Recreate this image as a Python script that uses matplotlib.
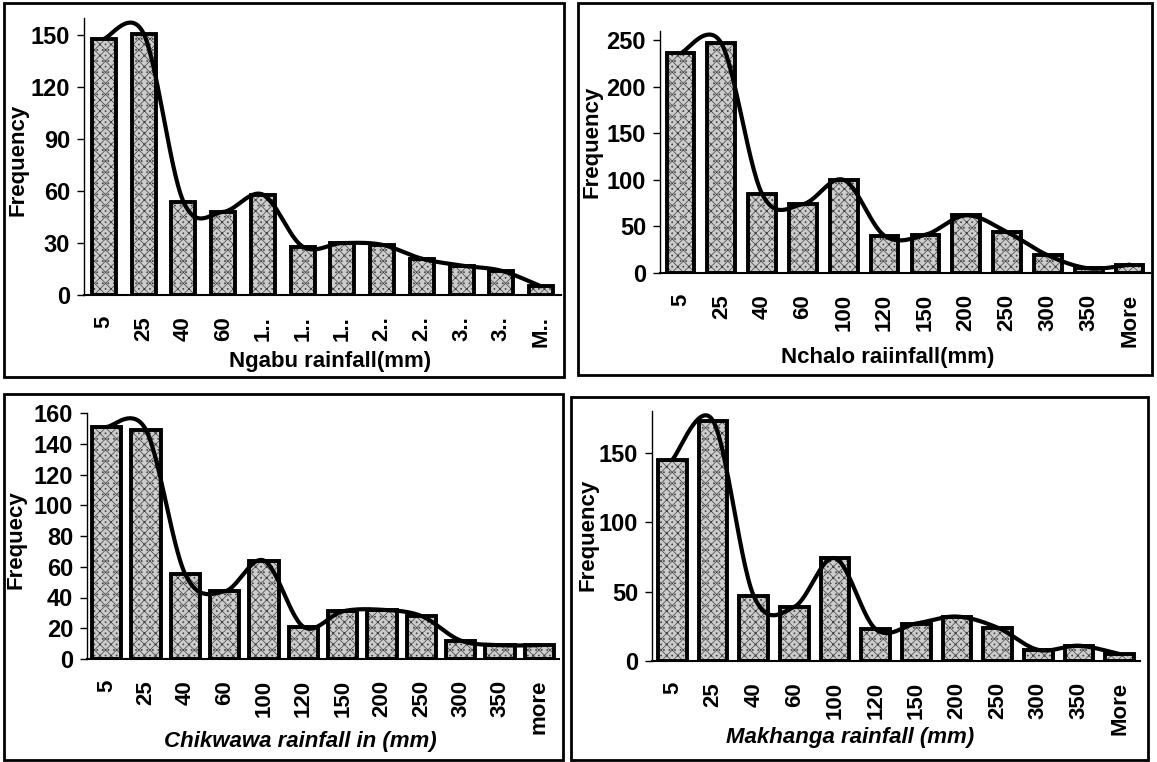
import numpy as np
import matplotlib
matplotlib.use("Agg")
import matplotlib.pyplot as plt
from matplotlib.patches import Rectangle

plt.rcParams['font.family'] = ['Liberation Sans', 'DejaVu Sans']
plt.rcParams['font.weight'] = 'bold'
plt.rcParams['axes.labelweight'] = 'bold'
plt.rcParams['hatch.linewidth'] = 0.5

# category labels
cats_ngabu = ['5', '25', '40', '60', '1..', '1..', '1..', '2..', '2..', '3..', '3..', 'M..']
cats_std = ['5', '25', '40', '60', '100', '120', '150', '200', '250', '300', '350', 'More']
cats_chik = ['5', '25', '40', '60', '100', '120', '150', '200', '250', '300', '350', 'more']

# frequencies
ngabu = [148, 151, 54, 48, 58, 28, 30, 29, 21, 17, 14, 5]
nchalo = [236, 247, 85, 74, 100, 40, 41, 62, 44, 19, 5, 9]
chikwawa = [151, 149, 55, 44, 64, 21, 31, 32, 28, 12, 9, 9]
makhanga = [145, 173, 47, 39, 74, 23, 27, 32, 24, 8, 11, 5]

W, H = 1157, 762
fig = plt.figure(figsize=(W / 100, H / 100), dpi=100)


def smooth(y, n=30):
    # excel-like smoothed line (bezier through the points)
    y = np.asarray(y, float)
    x = np.arange(len(y), dtype=float)
    p = np.column_stack([x, y])
    pts = []
    t = np.linspace(0, 1, n)[:, None]
    for i in range(len(p) - 1):
        p0 = p[i]
        p3 = p[i + 1]
        pm = p[i - 1] if i > 0 else p[i]
        pn = p[i + 2] if i + 2 < len(p) else p[i + 1]
        c1 = p0 + (p3 - pm) / 6
        c2 = p3 - (pn - p0) / 6
        seg = ((1 - t) ** 3) * p0 + 3 * ((1 - t) ** 2) * t * c1 + 3 * (1 - t) * t ** 2 * c2 + t ** 3 * p3
        pts.append(seg)
    pts = np.vstack(pts)
    return pts[:, 0], pts[:, 1]


def panel(box, ax_px, cats, vals, ymax, step, xlabel, ylabel, xl_pos, yl_pos,
          bw=0.65, italic=False):
    # outer frame
    l, t, r, b = box
    fig.patches.append(Rectangle((l / W, 1 - b / H), (r - l) / W, (b - t) / H,
                                 transform=fig.transFigure, fill=False,
                                 edgecolor='black', linewidth=2))
    al, at, ar, ab = ax_px
    ax = fig.add_axes([al / W, 1 - ab / H, (ar - al) / W, (ab - at) / H])
    x = np.arange(len(vals))
    ax.bar(x, vals, width=bw, color='#cccccc', edgecolor='#404040',
           hatch='xxx...', linewidth=0)
    ax.bar(x, vals, width=bw, color='none', edgecolor='black', linewidth=2.8)
    sx, sy = smooth(vals)
    ax.plot(sx, sy, color='black', linewidth=3, solid_capstyle='round')
    ax.set_xlim(-0.5, len(vals) - 0.5)
    ax.set_ylim(0, ymax)
    ax.set_yticks(np.arange(0, ymax + 1, step))
    ax.set_xticks(x)
    ax.set_xticklabels(cats, rotation=90, va='top', ha='center', fontsize=16)
    ax.tick_params(axis='x', length=0, pad=15)
    ax.tick_params(axis='y', length=5, width=1, pad=5, labelsize=17)
    for s in ['top', 'right']:
        ax.spines[s].set_visible(False)
    ax.spines['left'].set_linewidth(1)
    ax.spines['bottom'].set_linewidth(1.5)
    ax.set_xlabel(xlabel, fontsize=16, style='italic' if italic else 'normal')
    ax.xaxis.set_label_coords(xl_pos[0] / W, 1 - xl_pos[1] / H, transform=fig.transFigure)
    ax.xaxis.label.set_va('center')
    ax.set_ylabel(ylabel, fontsize=16)
    ax.yaxis.set_label_coords(yl_pos[0] / W, 1 - yl_pos[1] / H, transform=fig.transFigure)
    ax.yaxis.label.set_va('center')
    return ax


panel((4, 3, 564, 377), (84, 18, 561, 295), cats_ngabu, ngabu, 160, 30,
      'Ngabu rainfall(mm)', 'Frequency', (330, 361), (18, 160), bw=0.6)
panel((578, 3, 1152, 375), (660, 31, 1150, 273), cats_std, nchalo, 260, 50,
      'Nchalo raiinfall(mm)', 'Frequency', (888, 357), (592, 142), bw=0.68)
panel((4, 394, 563, 760), (87, 413, 559, 659), cats_chik, chikwawa, 160, 20,
      'Chikwawa rainfall in (mm)', 'Frequecy', (300, 741), (16, 540), bw=0.75,
      italic=True)
panel((571, 397, 1148, 760), (652, 411, 1140, 661), cats_std, makhanga, 180, 50,
      'Makhanga rainfall (mm)', 'Frequency', (850, 737), (588, 535), bw=0.7,
      italic=True)

fig.savefig('out.png', dpi=100, facecolor='white')
